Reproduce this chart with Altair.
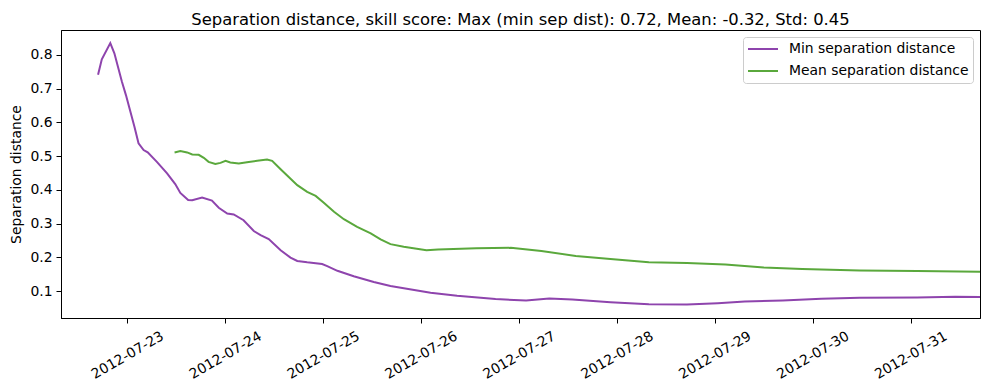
import altair as alt
import pandas as pd

min_times = ["2012-07-22 16:50","2012-07-22 17:45","2012-07-22 19:50","2012-07-22 20:50","2012-07-22 22:40","2012-07-22 23:40",
             "2012-07-23 00:45","2012-07-23 01:45","2012-07-23 02:45","2012-07-23 04:00","2012-07-23 05:00","2012-07-23 07:15",
             "2012-07-23 09:45","2012-07-23 11:45","2012-07-23 13:00","2012-07-23 14:55","2012-07-23 15:55","2012-07-23 18:20",
             "2012-07-23 20:45","2012-07-23 22:25","2012-07-24 00:30","2012-07-24 02:05","2012-07-24 04:30","2012-07-24 07:00",
             "2012-07-24 08:40","2012-07-24 10:40","2012-07-24 13:35","2012-07-24 16:00","2012-07-24 17:40","2012-07-24 20:05",
             "2012-07-24 23:45","2012-07-25 01:00","2012-07-25 03:30","2012-07-25 07:30","2012-07-25 12:25","2012-07-25 16:30",
             "2012-07-26 02:20","2012-07-26 08:50","2012-07-26 18:15","2012-07-27 01:45","2012-07-27 07:25","2012-07-27 13:05",
             "2012-07-27 22:25","2012-07-28 07:50","2012-07-28 17:10","2012-07-29 00:45","2012-07-29 07:20","2012-07-29 16:40",
             "2012-07-30 02:05","2012-07-30 11:30","2012-07-31 01:35","2012-07-31 10:55","2012-07-31 17:00"]
min_vals = [0.741,0.787,0.835,0.805,0.721,0.681,0.632,0.587,0.538,0.518,0.511,0.483,0.449,0.417,0.391,0.370,0.369,0.377,
            0.368,0.347,0.330,0.327,0.310,0.278,0.266,0.254,0.221,0.199,0.189,0.185,0.180,0.174,0.160,0.144,0.127,0.115,
            0.095,0.086,0.076,0.072,0.078,0.075,0.067,0.061,0.060,0.064,0.069,0.072,0.077,0.080,0.081,0.083,0.082]

mean_times = ["2012-07-23 11:35","2012-07-23 13:00","2012-07-23 14:40","2012-07-23 15:55","2012-07-23 17:30","2012-07-23 18:45",
              "2012-07-23 19:55","2012-07-23 21:35","2012-07-23 22:50","2012-07-24 00:05","2012-07-24 01:15","2012-07-24 03:20",
              "2012-07-24 05:20","2012-07-24 07:50","2012-07-24 10:15","2012-07-24 11:30","2012-07-24 13:35","2012-07-24 17:40",
              "2012-07-24 20:05","2012-07-24 22:10","2012-07-25 00:10","2012-07-25 02:40","2012-07-25 05:05","2012-07-25 08:20",
              "2012-07-25 11:40","2012-07-25 14:05","2012-07-25 16:30","2012-07-25 19:45","2012-07-26 01:20","2012-07-26 04:10",
              "2012-07-26 13:35","2012-07-26 22:00","2012-07-27 05:30","2012-07-27 13:55","2012-07-27 22:25","2012-07-28 07:50",
              "2012-07-28 17:10","2012-07-29 02:35","2012-07-29 12:00","2012-07-29 21:25","2012-07-30 11:30","2012-07-31 01:35",
              "2012-07-31 17:00"]
mean_vals = [0.511,0.515,0.511,0.505,0.504,0.495,0.483,0.477,0.480,0.486,0.481,0.478,0.482,0.486,0.490,0.486,0.461,0.414,
             0.394,0.382,0.362,0.335,0.313,0.290,0.271,0.253,0.239,0.231,0.221,0.223,0.227,0.228,0.219,0.204,0.195,0.185,
             0.183,0.179,0.170,0.165,0.161,0.159,0.157]

series_names = ["Min separation distance", "Mean separation distance"]
series_colors = ["#8e44ad", "#5aa83c"]
tick_days = list(range(23, 32))
y_ticks = [0.1, 0.2, 0.3, 0.4, 0.5, 0.6, 0.7, 0.8]
title_text = "Separation distance, skill score: Max (min sep dist): 0.72, Mean: -0.32, Std: 0.45"

df = pd.concat([
    pd.DataFrame({"time": min_times, "value": min_vals, "series": series_names[0], "order": 0}),
    pd.DataFrame({"time": mean_times, "value": mean_vals, "series": series_names[1], "order": 1}),
])

FONT = "DejaVu Sans"

chart = alt.Chart(df).mark_line(strokeWidth=2, clip=True).encode(
    x=alt.X("time:T",
            scale=alt.Scale(domain=[alt.DateTime(year=2012, month=7, date=22, hours=7, minutes=45),
                                    alt.DateTime(year=2012, month=7, date=31, hours=17, minutes=0)], nice=False),
            axis=alt.Axis(title=None, values=[alt.DateTime(year=2012, month=7, date=d) for d in tick_days],
                          format="%Y-%m-%d", labelAngle=-30, labelAlign="center", labelBaseline="middle",
                          labelPadding=32, tickSize=5, labelFlush=False, labelOverlap=False)),
    y=alt.Y("value:Q",
            scale=alt.Scale(domain=[0.02, 0.874], nice=False, zero=False),
            axis=alt.Axis(title="Separation distance", values=y_ticks, format=".1f", tickSize=5,
                          labelPadding=4, titlePadding=6)),
    color=alt.Color("series:N",
                    scale=alt.Scale(domain=series_names, range=series_colors),
                    legend=alt.Legend(title=None, orient="none", legendX=682, legendY=7,
                                      symbolType="stroke", symbolSize=900, symbolStrokeWidth=2,
                                      clipHeight=16, rowPadding=6, labelOffset=10, labelLimit=0,
                                      padding=4, cornerRadius=3, strokeColor="#cccccc",
                                      fillColor="white", labelFontSize=13.9, labelFont=FONT,
                                      labelColor="black")),
    order="order:Q",
    detail="series:N",
).properties(
    width=919, height=288,
    title=alt.TitleParams(title_text, fontSize=16.4, font=FONT, fontWeight="normal",
                          anchor="middle", offset=2, color="black"),
    autosize=alt.AutoSizeParams(type="none"),
    padding={"left": 53, "top": 22, "right": 1, "bottom": 64},
).configure_view(
    stroke="black", strokeWidth=1
).configure_axis(
    grid=False, domainColor="black", tickColor="black", labelColor="black",
    labelFont=FONT, labelFontSize=13.9, titleFont=FONT, titleFontSize=13.9,
    titleFontWeight="normal", titleColor="black", domainWidth=1, tickWidth=1
)

chart.save("out.html", embed_options={"renderer": "svg", "actions": False})
